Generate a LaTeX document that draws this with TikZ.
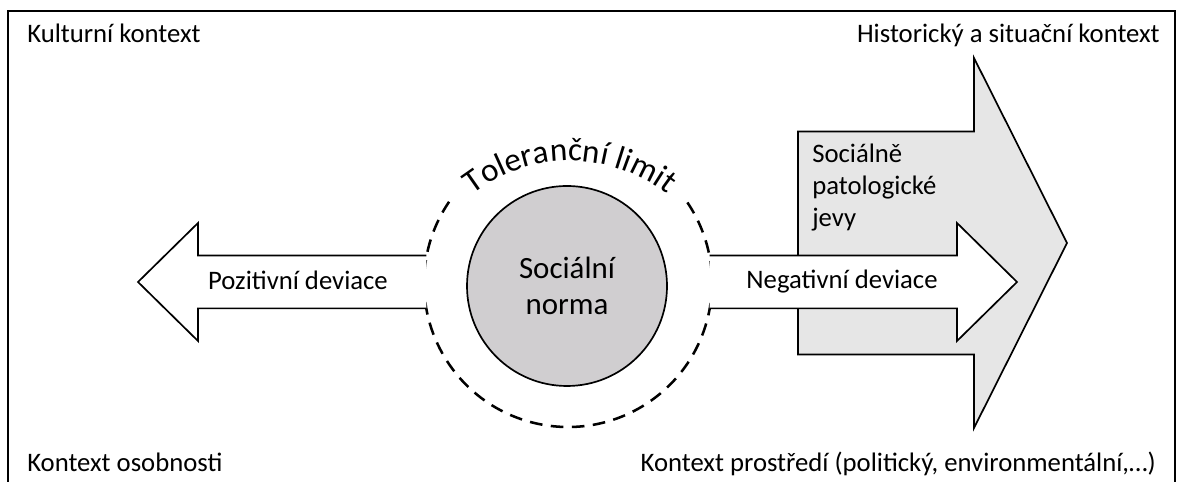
\documentclass[tikz,border=0pt]{standalone}
\usepackage{fontspec}
\setmainfont{Carlito}
\usetikzlibrary{positioning, decorations.text}
\definecolor{normgray}{RGB}{208, 206, 208}
\definecolor{jevgray}{RGB}{230, 230, 230}

\begin{document}
\begin{tikzpicture}[
  ctxlabel/.style={font=\fontsize{19}{22.5}\selectfont, inner sep=0pt},
  blockarrow/.style={draw=black, line width=1.2pt, line join=miter},
]
  \useasboundingbox (0,0) rectangle (29.45,12.05);

  % Frame, open at the bottom
  \draw[line width=1pt] (0.2,0) -- (0.2,11.775) -- (29.375,11.775) -- (29.375,0);

  % Context labels in the corners
  \node[ctxlabel, anchor=base west] (kultura) at (0.675,10.975) {Kulturní kontext};
  \node[ctxlabel, anchor=base east] (historie) at (29.0,10.975) {Historický a situační kontext};
  \node[ctxlabel, anchor=base west] (osobnost) at (0.675,0.25) {Kontext osobnosti};
  \node[ctxlabel, anchor=base east] (prostredi) at (28.9,0.25) {Kontext prostředí (politický, environmentální,…)};

  % Socially pathological phenomena (big grey arrow)
  \draw[blockarrow, fill=jevgray] (19.95,3.1875) -- (19.95,8.7625) -- (24.35,8.7625) -- (24.35,10.6)
    -- (26.675,5.975) -- (24.35,1.35) -- (24.35,3.1875) -- cycle;
  \node[ctxlabel, anchor=north west, align=left] (jevy) at (20.3,8.45) {Sociálně\\patologické\\jevy};

  % Tolerance limit and the norm
  \coordinate (limit) at (14.2,4.975);
  \coordinate (oblouk) at (14.25,4.075);
  \draw[line width=1.8pt, dash pattern=on 9pt off 6pt] (limit) ++(34:3.6) arc[start angle=34, end angle=-216, radius=3.6];
  \path[decorate, decoration={text along path, text align=center,
      text={|\fontsize{23.5}{26}\selectfont|Toleranční limit}}]
    (oblouk) ++(165:3.95) arc[start angle=165, end angle=15, radius=3.95];
  \node[circle, draw, line width=1.2pt, fill=normgray, minimum size=5cm, align=center,
    font=\fontsize{22}{26}\selectfont] (norma) at (14.175,4.9) {Sociální\\norma};

  % Deviations
  \draw[blockarrow, fill=white] (10.66,5.66) -- (4.95,5.66) -- (4.95,6.475) -- (3.45,5.0)
    -- (4.95,3.525) -- (4.95,4.34) -- (10.66,4.34);
  \node[ctxlabel, anchor=base] (pozitivni) at (7.45,4.8) {Pozitivní deviace};

  \draw[blockarrow, fill=white] (17.74,5.66) -- (23.925,5.66) -- (23.925,6.475) -- (25.425,5.0)
    -- (23.925,3.525) -- (23.925,4.34) -- (17.74,4.34);
  \node[ctxlabel, anchor=base] (negativni) at (21.05,4.825) {Negativní deviace};
\end{tikzpicture}
\end{document}
